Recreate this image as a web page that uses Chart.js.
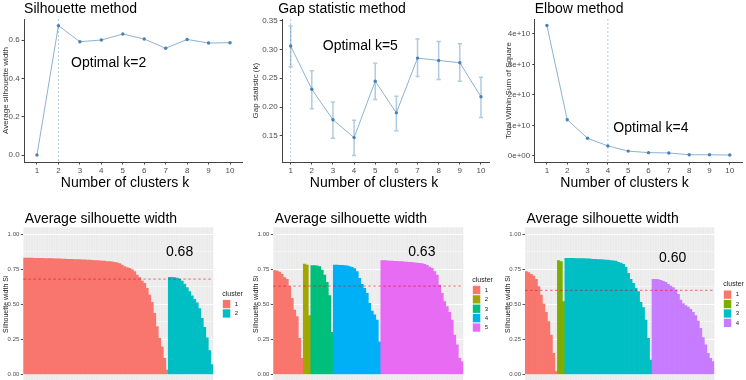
<!DOCTYPE html>
<html>
<head>
<meta charset="utf-8">
<title>Optimal number of clusters</title>
<script src="https://cdn.jsdelivr.net/npm/chart.js@4.4.1/dist/chart.umd.min.js"></script>
<style>
  html, body { margin: 0; padding: 0; background: #fff; width: 746px; height: 380px; overflow: hidden; }
  .panel { position: absolute; }
  .panel canvas { display: block; }
</style>
</head>
<body>
<script>
// ---- data: top row ----
const kValues = [1, 2, 3, 4, 5, 6, 7, 8, 9, 10];

const silhouetteAvg = [0.000, 0.675, 0.591, 0.600, 0.631, 0.605, 0.557, 0.603, 0.584, 0.586];
const silhouetteTicks = [0, 0.2, 0.4, 0.6];
const silhouetteBest = 2;

const gapValues = [0.306, 0.231, 0.178, 0.147, 0.245, 0.190, 0.285, 0.281, 0.277, 0.218];
const gapLower  = [0.270, 0.197, 0.146, 0.116, 0.213, 0.159, 0.253, 0.248, 0.245, 0.182];
const gapUpper  = [0.341, 0.263, 0.209, 0.177, 0.276, 0.219, 0.318, 0.314, 0.310, 0.252];
const gapTicks = [0.15, 0.20, 0.25, 0.30, 0.35];
const gapBest = 1;

const wssValues = [4.28e10, 1.19e10, 0.58e10, 0.33e10, 0.16e10, 0.11e10, 0.10e10, 0.04e10, 0.04e10, 0.03e10];
const wssTicks = [0, 1e10, 2e10, 3e10, 4e10];
const wssBest = 4;

// ---- data: silhouette plots (one bar per observation, sorted inside each cluster) ----
const silTicks = [0, 0.25, 0.5, 0.75, 1.0];

const silK2Cluster1 = [
  0.831, 0.831, 0.830, 0.830, 0.829, 0.829, 0.828, 0.828, 0.827, 0.827,
  0.826, 0.826, 0.825, 0.825, 0.824, 0.823, 0.823, 0.822, 0.821, 0.821,
  0.820, 0.819, 0.819, 0.818, 0.817, 0.816, 0.815, 0.814, 0.813, 0.812,
  0.810, 0.809, 0.808, 0.806, 0.805, 0.803, 0.800, 0.796, 0.790, 0.780,
  0.770, 0.762, 0.757, 0.748, 0.733, 0.709, 0.690, 0.666, 0.650, 0.614,
  0.566, 0.514, 0.436, 0.340, 0.257, 0.197, 0.114, 0.031
];
const silK2Cluster2 = [
  0.693, 0.693, 0.690, 0.688, 0.680, 0.665, 0.645, 0.620, 0.590, 0.560,
  0.535, 0.510, 0.470, 0.400, 0.335, 0.260, 0.170, 0.070
];
const silK2Avg = 0.68;

const silK5Cluster1 = [0.740, 0.738, 0.730, 0.714, 0.690, 0.678, 0.626, 0.543, 0.459, 0.412, 0.257, 0.114];
const silK5Cluster2 = [0.788, 0.780, 0.420];
const silK5Cluster3 = [0.776, 0.776, 0.774, 0.770, 0.745, 0.709, 0.657, 0.562, 0.300];
const silK5Cluster4 = [
  0.781, 0.781, 0.778, 0.778, 0.776, 0.774, 0.769, 0.764, 0.755, 0.733,
  0.686, 0.643, 0.614, 0.578, 0.507, 0.452, 0.424, 0.388, 0.230
];
const silK5Cluster5 = [
  0.812, 0.812, 0.810, 0.809, 0.809, 0.807, 0.807, 0.805, 0.805, 0.802,
  0.802, 0.800, 0.800, 0.797, 0.795, 0.793, 0.790, 0.785, 0.778, 0.766,
  0.757, 0.733, 0.709, 0.638, 0.578, 0.519, 0.483, 0.443, 0.388, 0.281,
  0.210, 0.114, 0.090
];
const silK5Avg = 0.63;

const silK4Cluster1 = [0.733, 0.726, 0.714, 0.702, 0.678, 0.626, 0.566, 0.502, 0.443, 0.376, 0.281, 0.150, 0.020];
const silK4Cluster2 = [0.812, 0.805, 0.520];
const silK4Cluster3 = [
  0.829, 0.829, 0.828, 0.828, 0.827, 0.827, 0.826, 0.826, 0.825, 0.824,
  0.823, 0.822, 0.821, 0.820, 0.819, 0.818, 0.816, 0.815, 0.813, 0.811,
  0.809, 0.800, 0.795, 0.785, 0.764, 0.721, 0.678, 0.650, 0.614, 0.590,
  0.514, 0.476, 0.388, 0.257, 0.102
];
const silK4Cluster4 = [
  0.678, 0.678, 0.676, 0.671, 0.664, 0.657, 0.643, 0.631, 0.619, 0.602,
  0.571, 0.531, 0.505, 0.491, 0.481, 0.464, 0.443, 0.419, 0.381, 0.328,
  0.262, 0.210, 0.150, 0.114, 0.090
];
const silK4Avg = 0.60;

// ggplot hue palettes
const hue2 = ['#F8766D', '#00BFC4'];
const hue4 = ['#F8766D', '#7CAE00', '#00BFC4', '#C77CFF'];
const hue5 = ['#F8766D', '#A3A500', '#00BF7D', '#00B0F6', '#E76BF3'];

// ---- look ----
const FONT = '"Liberation Sans", Arial, Helvetica, sans-serif';
const STEEL = '#4682b4';
const STEEL_LINE = 'rgba(70,130,180,0.62)';
const STEEL_SOFT = 'rgba(70,130,180,0.42)';
const AXIS = '#444';
const TICK_TEXT = '#4d4d4d';

Chart.defaults.font.family = FONT;
Chart.defaults.animation = false;
Chart.defaults.maintainAspectRatio = false;
Chart.defaults.plugins.legend.display = false;
Chart.defaults.plugins.tooltip.enabled = false;

function mount(box) {
  const div = document.createElement('div');
  div.className = 'panel';
  div.style.left = box.x + 'px';
  div.style.top = box.y + 'px';
  div.style.width = box.w + 'px';
  div.style.height = box.h + 'px';
  const canvas = document.createElement('canvas');
  div.appendChild(canvas);
  document.body.appendChild(div);
  return canvas;
}

// titles, notes, reference lines, error bars and the little legends
const deco = {
  id: 'deco',
  beforeDraw(chart, args, o) {
    if (!o.panelBg) return;
    const { ctx, chartArea: a } = chart;
    ctx.save();
    ctx.fillStyle = o.panelBg;
    ctx.fillRect(a.left, a.top, a.width, a.height);
    ctx.restore();
  },
  beforeDatasetsDraw(chart, args, o) {
    if (!o.errLow) return;
    const { ctx, scales: { x, y } } = chart;
    ctx.save();
    ctx.strokeStyle = STEEL_SOFT;
    ctx.lineWidth = 1.5;
    kValues.forEach((k, i) => {
      const px = x.getPixelForValue(k);
      const half = x.getPixelForValue(k + 0.1) - px;
      const lo = y.getPixelForValue(o.errLow[i]);
      const hi = y.getPixelForValue(o.errHigh[i]);
      ctx.beginPath();
      ctx.moveTo(px, lo); ctx.lineTo(px, hi);
      ctx.moveTo(px - half, lo); ctx.lineTo(px + half, lo);
      ctx.moveTo(px - half, hi); ctx.lineTo(px + half, hi);
      ctx.stroke();
    });
    ctx.restore();
  },
  afterDatasetsDraw(chart, args, o) {
    const { ctx, chartArea: a, scales: { x, y } } = chart;
    ctx.save();
    if (o.vline != null) {
      const px = x.getPixelForValue(o.vline);
      ctx.strokeStyle = STEEL_SOFT;
      ctx.lineWidth = 1;
      ctx.setLineDash([2, 2]);
      ctx.beginPath(); ctx.moveTo(px, a.top); ctx.lineTo(px, a.bottom); ctx.stroke();
    }
    if (o.hline != null) {
      const py = y.getPixelForValue(o.hline);
      ctx.strokeStyle = 'rgba(230,0,0,0.55)';
      ctx.lineWidth = 1;
      ctx.setLineDash([2.5, 2.5]);
      ctx.beginPath(); ctx.moveTo(a.left, py); ctx.lineTo(a.right, py); ctx.stroke();
    }
    ctx.setLineDash([]);
    ctx.fillStyle = '#000';
    ctx.textBaseline = 'alphabetic';
    (o.notes || []).forEach(n => {
      ctx.font = `14px ${FONT}`;
      ctx.textAlign = n.align;
      ctx.fillText(n.text, x.getPixelForValue(n.x), y.getPixelForValue(n.y));
    });
    if (o.title) {
      ctx.font = `14px ${FONT}`;
      ctx.textAlign = 'left';
      ctx.fillText(o.title.text, a.left + o.title.dx, a.top - o.title.rise);
    }
    // ggplot centres the x title on the whole plot, not on the panel
    if (o.xTitle) {
      ctx.font = `14px ${FONT}`;
      ctx.textAlign = 'center';
      ctx.fillText(o.xTitle, chart.width / 2, a.bottom + 24.7);
    }
    if (o.legend) {
      const n = o.legend.length;
      const cy = (a.top + a.bottom) / 2;
      const keysTop = cy - n * 4.7 + 5;
      const lx = a.right + 9.5;
      ctx.textAlign = 'left';
      ctx.textBaseline = 'middle';
      ctx.fillStyle = '#222';
      ctx.font = `7px ${FONT}`;
      ctx.fillText('cluster', lx - 0.5, keysTop - 6);
      o.legend.forEach((col, i) => {
        const top = keysTop + i * 9.4;
        ctx.fillStyle = col;
        ctx.fillRect(lx, top, 7.5, 8.3);
        ctx.fillStyle = '#222';
        ctx.font = `6px ${FONT}`;
        ctx.fillText(String(i + 1), lx + 12, top + 4.3);
      });
    }
    ctx.restore();
  }
};

function methodChart(box, area, cfg) {
  const canvas = mount(box);
  return new Chart(canvas, {
    type: 'line',
    data: {
      datasets: [{
        data: kValues.map((k, i) => ({ x: k, y: cfg.values[i] })),
        borderColor: STEEL_LINE,
        borderWidth: 1,
        pointRadius: 1.7,
        pointBorderWidth: 0,
        pointBackgroundColor: STEEL,
        tension: 0
      }]
    },
    options: {
      layout: { padding: { left: 0, top: area.t - box.y, right: box.x + box.w - area.r, bottom: 0 } },
      scales: {
        x: {
          type: 'linear',
          min: cfg.xMin,
          max: cfg.xMax,
          afterBuildTicks: s => { s.ticks = kValues.map(v => ({ value: v })); },
          afterFit: s => { s.height = box.y + box.h - area.b; },
          ticks: { color: TICK_TEXT, font: { size: 8 }, padding: 1, autoSkip: false, maxRotation: 0 },
          grid: { drawOnChartArea: false, color: AXIS, tickLength: 2.5 },
          border: { color: AXIS, width: 1 }
        },
        y: {
          min: cfg.yMin,
          max: cfg.yMax,
          afterBuildTicks: s => { s.ticks = cfg.yTicks.map(v => ({ value: v })); },
          afterFit: s => { s.width = area.l - box.x; },
          ticks: { color: TICK_TEXT, font: { size: 8 }, padding: 2, callback: cfg.fmt },
          grid: { drawOnChartArea: false, color: AXIS, tickLength: 2.5 },
          border: { color: AXIS, width: 1 },
          title: { display: true, text: cfg.yTitle, color: '#333', font: { size: 8 }, padding: { top: 0.5, bottom: 0 } }
        }
      },
      plugins: {
        deco: {
          title: { text: cfg.title, dx: cfg.titleDx, rise: 6.5 },
          xTitle: 'Number of clusters k',
          vline: cfg.best,
          notes: [{ text: cfg.note, x: cfg.noteX, y: cfg.noteY, align: 'left' }],
          errLow: cfg.errLow,
          errHigh: cfg.errHigh
        }
      }
    },
    plugins: [deco]
  });
}

function silhouetteChart(box, area, clusters, palette, avg, labelAt) {
  const canvas = mount(box);
  const values = [].concat(...clusters);
  const colors = [].concat(...clusters.map((c, i) => c.map(() => palette[i])));
  const minor = silTicks.slice(1).map((t, i) => (t + silTicks[i]) / 2);
  const isMajor = v => silTicks.some(t => Math.abs(t - v) < 1e-9);
  return new Chart(canvas, {
    type: 'bar',
    data: {
      labels: values.map((v, i) => String(i + 1)),
      datasets: [{
        data: values,
        backgroundColor: colors,
        borderWidth: 0,
        barPercentage: 1,
        categoryPercentage: 1
      }]
    },
    options: {
      layout: { padding: { left: 0, top: area.t - box.y, right: box.x + box.w - area.r, bottom: box.y + box.h - area.b } },
      scales: {
        x: {
          afterFit: s => { s.height = 0; },
          ticks: { display: false },
          grid: { color: 'rgba(255,255,255,0.35)', lineWidth: 0.6, drawTicks: false },
          border: { display: false }
        },
        y: {
          min: -0.05,
          max: 1.05,
          afterBuildTicks: s => {
            s.ticks = silTicks.concat(minor).sort((a, b) => a - b).map(v => ({ value: v }));
          },
          afterFit: s => { s.width = area.l - box.x; },
          ticks: {
            color: TICK_TEXT, font: { size: 6 }, padding: 1.5,
            callback: v => isMajor(v) ? v.toFixed(2) : ''
          },
          grid: {
            color: '#fff',
            lineWidth: c => (c.tick && isMajor(c.tick.value)) ? 1 : 0.5,
            tickColor: c => (c.tick && isMajor(c.tick.value)) ? '#555' : 'rgba(0,0,0,0)',
            tickLength: 2.5
          },
          border: { display: false },
          title: { display: true, text: 'Silhouette width Si', color: '#222', font: { size: 7 }, padding: { top: 1.5, bottom: 0 } }
        }
      },
      plugins: {
        deco: {
          panelBg: '#EBEBEB',
          hline: avg,
          title: { text: 'Average silhouette width', dx: 1.5, rise: 4.3 },
          notes: [{ text: avg.toFixed(2), x: labelAt.x, y: labelAt.y, align: 'center' }],
          legend: palette
        }
      }
    },
    plugins: [deco]
  });
}

// ---- top row ----
methodChart({ x: 0, y: 0, w: 250, h: 192 }, { l: 24.1, t: 19, r: 242.9, b: 162 }, {
  values: silhouetteAvg, yTicks: silhouetteTicks, yMin: -0.0365, yMax: 0.7096, xMin: 0.4, xMax: 10.6,
  fmt: v => v.toFixed(1), yTitle: 'Average silhouette width',
  title: 'Silhouette method', titleDx: 0, best: silhouetteBest,
  note: 'Optimal k=2', noteX: 2.59, noteY: 0.461
});

methodChart({ x: 250, y: 0, w: 248, h: 192 }, { l: 282.2, t: 19.2, r: 489, b: 162 }, {
  values: gapValues, yTicks: gapTicks, yMin: 0.1046, yMax: 0.3526, xMin: 0.6, xMax: 10.38,
  fmt: v => v.toFixed(2), yTitle: 'Gap statistic (k)',
  title: 'Gap statistic method', titleDx: -4, best: gapBest,
  note: 'Optimal k=5', noteX: 2.52, noteY: 0.299,
  errLow: gapLower, errHigh: gapUpper
});

methodChart({ x: 503, y: 0, w: 243, h: 192 }, { l: 534.7, t: 19, r: 744.3, b: 162 }, {
  values: wssValues, yTicks: wssTicks, yMin: -0.197e10, yMax: 4.49e10, xMin: 0.4, xMax: 10.6,
  fmt: v => v === 0 ? '0e+00' : Math.round(v / 1e10) + 'e+10', yTitle: 'Total Within Sum of Square',
  title: 'Elbow method', titleDx: 0, best: wssBest,
  note: 'Optimal k=4', noteX: 4.27, noteY: 0.797e10
});

// ---- bottom row ----
silhouetteChart({ x: 0, y: 192, w: 250, h: 208 }, { l: 23.3, t: 227.3, r: 213.3, b: 381.3 },
  [silK2Cluster1, silK2Cluster2], hue2, silK2Avg, { x: 62.0, y: 0.845 });

silhouetteChart({ x: 250, y: 192, w: 250, h: 208 }, { l: 273.3, t: 227.3, r: 463.3, b: 381.3 },
  [silK5Cluster1, silK5Cluster2, silK5Cluster3, silK5Cluster4, silK5Cluster5], hue5, silK5Avg, { x: 58.9, y: 0.845 });

silhouetteChart({ x: 502, y: 192, w: 244, h: 208 }, { l: 525, t: 227.3, r: 714.3, b: 381.3 },
  [silK4Cluster1, silK4Cluster2, silK4Cluster3, silK4Cluster4], hue4, silK4Avg, { x: 58.8, y: 0.80 });
</script>
</body>
</html>
